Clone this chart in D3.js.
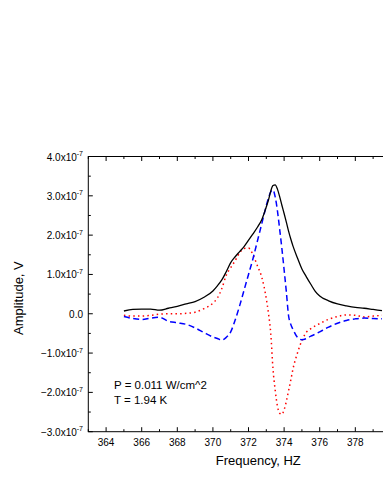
<!DOCTYPE html>
<html>
<head>
<meta charset="utf-8">
<script src="https://cdn.jsdelivr.net/npm/d3@7/dist/d3.min.js"></script>
<style>
  html, body { margin: 0; padding: 0; background: #fff; }
  svg { display: block; font-family: "Liberation Sans", Arial, sans-serif; }
</style>
</head>
<body>
<svg id="chart" width="383" height="495"></svg>
<script>
// ---- data (amplitudes in units of 1e-7 V) ----
const freq = [365, 365.5, 366, 366.5, 367, 367.5, 368, 368.5, 369, 369.5,
  370, 370.25, 370.5, 370.75, 371, 371.25, 371.5, 371.75, 372, 372.25, 372.5, 372.75,
  373, 373.125, 373.25, 373.375, 373.5, 373.625, 373.75, 373.875,
  374, 374.125, 374.25, 374.375, 374.5, 374.75, 375, 375.25, 375.5, 375.75,
  376, 376.5, 377, 377.5, 378, 378.5, 379, 379.5];
const amplitude = [0.07, 0.11, 0.12, 0.12, 0.09, 0.14, 0.19, 0.25, 0.31, 0.42,
  0.58, 0.71, 0.86, 1.07, 1.3, 1.45, 1.58, 1.71, 1.87, 2.03, 2.2, 2.4,
  2.72, 2.9, 3.12, 3.26, 3.28, 3.17, 2.98, 2.76,
  2.55, 2.33, 2.1, 1.9, 1.72, 1.42, 1.14, 0.94, 0.75, 0.57,
  0.45, 0.33, 0.25, 0.2, 0.16, 0.14, 0.11, 0.08];
const redSeries = [-0.04, -0.06, -0.06, -0.04, -0.01, 0.0, 0.0, 0.01, 0.04, 0.13,
  0.27, 0.4, 0.64, 0.98, 1.17, 1.35, 1.55, 1.66, 1.67, 1.5, 1.22, 0.92,
  0.38, 0.0, -0.5, -1.4, -1.95, -2.35, -2.53, -2.56,
  -2.44, -2.23, -1.96, -1.69, -1.4, -1.0, -0.68, -0.47, -0.38, -0.31,
  -0.25, -0.14, -0.07, -0.03, -0.04, -0.08, -0.06, -0.04];
const blueSeries = [-0.07, -0.12, -0.145, -0.11, -0.09, -0.19, -0.23, -0.27, -0.36, -0.48,
  -0.59, -0.63, -0.67, -0.6, -0.46, -0.16, 0.2, 0.6, 1.0, 1.4, 1.85, 2.3,
  2.75, 2.95, 3.1, 3.15, 2.97, 2.62, 2.15, 1.66,
  1.12, 0.56, -0.05, -0.27, -0.4, -0.6, -0.66, -0.63, -0.57, -0.52,
  -0.46, -0.34, -0.24, -0.17, -0.13, -0.11, -0.12, -0.13];
const xTickValues = [364, 366, 368, 370, 372, 374, 376, 378];
const xMinorValues = [363,364,365,366,367,368,369,370,371,372,373,374,375,376,377,378,379,380,381,382];
const yTickValues = [-3, -2, -1, 0, 1, 2, 3, 4];
const yMinorValues = [-3,-2.5,-2,-1.5,-1,-0.5,0,0.5,1,1.5,2,2.5,3,3.5,4];
const annotation = ["P = 0.011 W/cm^2", "T = 1.94 K"];

// ---- layout ----
const L = 88.3, R = 428.3, T = 156.5, B = 431.7;
const svg = d3.select("#chart");
const x = d3.scaleLinear().domain([363, 382.1]).range([L, R]);
const y = d3.scaleLinear().domain([-3, 4]).range([B, T]);

svg.append("defs").append("clipPath").attr("id", "clip")
  .append("rect").attr("x", L).attr("y", T).attr("width", R - L).attr("height", B - T);

// frame
svg.append("rect").attr("x", L).attr("y", T).attr("width", R - L).attr("height", B - T)
  .attr("fill", "none").attr("stroke", "#000").attr("stroke-width", 1);

// ticks (inward)
const tickG = svg.append("g").attr("stroke", "#000").attr("stroke-width", 1);
xMinorValues.forEach(v => {
  const major = xTickValues.includes(v) || (v % 2 === 0);
  const len = major ? 4.5 : 2.5;
  tickG.append("line").attr("x1", x(v)).attr("x2", x(v)).attr("y1", B).attr("y2", B - len);
  tickG.append("line").attr("x1", x(v)).attr("x2", x(v)).attr("y1", T).attr("y2", T + len);
});
yMinorValues.forEach(v => {
  const major = Number.isInteger(v);
  const len = major ? 4.5 : 2.5;
  tickG.append("line").attr("x1", L).attr("x2", L + len).attr("y1", y(v)).attr("y2", y(v));
});

// x tick labels
svg.append("g").selectAll("text").data(xTickValues).join("text")
  .attr("x", d => x(d)).attr("y", 445.5)
  .attr("text-anchor", "middle").attr("font-size", 10).attr("fill", "#000")
  .text(d => d);

// y tick labels
const yl = svg.append("g").selectAll("text").data(yTickValues).join("text")
  .attr("x", 83).attr("y", d => y(d) + 4)
  .attr("text-anchor", "end").attr("font-size", 10).attr("fill", "#000");
yl.each(function(d) {
  const t = d3.select(this);
  if (d === 0) { t.text("0.0"); return; }
  t.append("tspan").text(d3.format(".1f")(d) + "x10");
  t.append("tspan").attr("font-size", 7).attr("dy", -4.5).text("-7");
});

// axis titles
svg.append("text").attr("x", (L + R) / 2).attr("y", 464.5)
  .attr("text-anchor", "middle").attr("font-size", 13).attr("fill", "#000")
  .text("Frequency, HZ");
svg.append("text").attr("transform", `translate(23,${(T + B) / 2 + 4}) rotate(-90)`)
  .attr("text-anchor", "middle").attr("font-size", 13).attr("fill", "#000")
  .text("Amplitude, V");

// lines
const line = vals => d3.line()
  .x((d, i) => x(freq[i])).y(d => y(d))
  .curve(d3.curveMonotoneX)(vals);
const g = svg.append("g").attr("clip-path", "url(#clip)");
g.append("path").attr("d", line(redSeries)).attr("fill", "none")
  .attr("stroke", "#ff0000").attr("stroke-width", 1.5).attr("stroke-dasharray", "1.5,3.2");
g.append("path").attr("d", line(blueSeries)).attr("fill", "none")
  .attr("stroke", "#0000ff").attr("stroke-width", 1.5).attr("stroke-dasharray", "6,3.5");
g.append("path").attr("d", line(amplitude)).attr("fill", "none")
  .attr("stroke", "#000").attr("stroke-width", 1.3);

// annotation
svg.append("g").selectAll("text").data(annotation).join("text")
  .attr("x", 114).attr("y", (d, i) => 389 + i * 15)
  .attr("font-size", 11.5).attr("fill", "#000")
  .text(d => d);
</script>
</body>
</html>
